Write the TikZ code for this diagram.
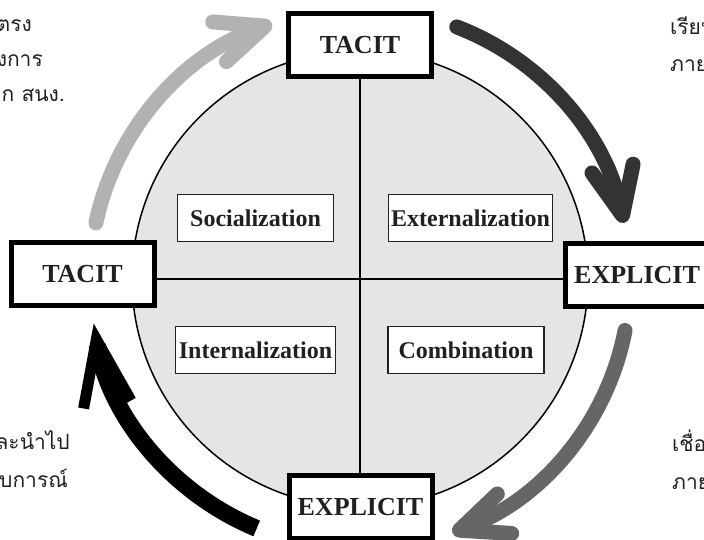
\documentclass[tikz,border=0pt]{standalone}
\usepackage{fontspec}
\setmainfont{Liberation Serif}
\newfontfamily\thaifont[Script=Thai]{Loma}
\usepackage{xcolor}
\usetikzlibrary{arrows.meta}

\definecolor{inkgray}{HTML}{231F20}

\begin{document}
\begin{tikzpicture}[x=1pt,y=1pt,
  modebox/.style={draw=inkgray,line width=1.2pt,fill=white,minimum width=156pt,minimum height=47pt,
    inner sep=3pt,text=inkgray,font=\fontsize{24}{28}\selectfont\bfseries},
  knowbox/.style={draw=black,line width=5pt,fill=white,minimum width=143pt,minimum height=63pt,
    text=inkgray,font=\fontsize{26}{30}\selectfont\bfseries},
  note/.style={inner sep=0pt,text=inkgray,font=\thaifont\fontsize{21}{30}\selectfont},
  cycle/.style={line width=15pt,line cap=round,-{Straight Barb[length=48pt,width=42pt,round]}}]
  \useasboundingbox (0,0) rectangle (704,540);
  \clip (0,0) rectangle (704,540);
  \coordinate (c) at (360,261);

  \draw[cycle,draw=black!30] ([shift={(168:270)}]c) arc[start angle=168,end angle=109,radius=270];
  \draw[cycle,draw=black!80] ([shift={(69:270)}]c) arc[start angle=69,end angle=12,radius=270];
  \draw[cycle,draw=black!60] ([shift={(-11:270)}]c) arc[start angle=-11,end angle=-70,radius=270];
  \draw[line width=17pt,-{Straight Barb[length=66pt,width=48pt,line width=11pt]}] ([shift={(-112.5:270)}]c)
    arc[start angle=-112.5,end angle=-170.5,radius=270];

  \node[circle,draw,line width=1.5pt,fill=black!10,minimum size=456pt,inner sep=0pt] (disk) at (c) {};
  \draw[line width=2pt] (disk.north) -- (disk.south);
  \draw[line width=2pt] (disk.west) -- (disk.east);

  \node[modebox] (soc) at (255.5,322) {Socialization};
  \node[modebox] (ext) at (470.5,322) {Externalization};
  \node[modebox] (int) at (255.5,190) {Internalization};
  \node[modebox] (comb) at (466,190) {Combination};

  \node[knowbox] (tacitT) at (360,495) {TACIT};
  \node[knowbox] (tacitL) at (82.5,266) {TACIT};
  \node[knowbox] (explR) at (637,265) {EXPLICIT};
  \node[knowbox] (explB) at (360.5,33) {EXPLICIT};

  \node[note,anchor=base east] (tl1) at (32,508) {ตรง};
  \node[note,anchor=base east] (tl2) at (43,473) {งการ};
  \node[note,anchor=base east] (tl3) at (65,438) {ก สนง.};
  \node[note,anchor=base west] (tr1) at (670,505) {เรียน};
  \node[note,anchor=base west] (tr2) at (670,468) {ภาย};
  \node[note,anchor=base east] (bl1) at (70,90) {ละนำไป};
  \node[note,anchor=base east] (bl2) at (68,52) {บการณ์};
  \node[note,anchor=base west] (br1) at (672,88) {เชื่อ};
  \node[note,anchor=base west] (br2) at (672,50) {ภาย};
\end{tikzpicture}
\end{document}
